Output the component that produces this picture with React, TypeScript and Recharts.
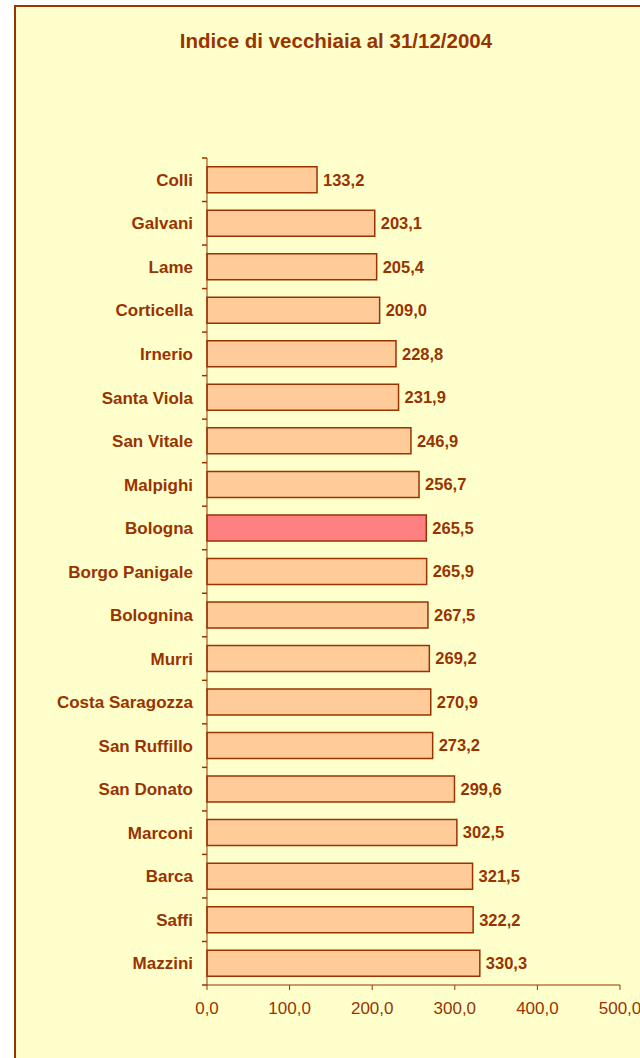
import { Bar, BarChart, Cell, LabelList, XAxis, YAxis } from 'recharts'

// Indice di vecchiaia per quartiere/zona, 31/12/2004
const zone = [
  'Colli', 'Galvani', 'Lame', 'Corticella', 'Irnerio', 'Santa Viola', 'San Vitale',
  'Malpighi', 'Bologna', 'Borgo Panigale', 'Bolognina', 'Murri', 'Costa Saragozza',
  'San Ruffillo', 'San Donato', 'Marconi', 'Barca', 'Saffi', 'Mazzini',
]
const indice = [
  133.2, 203.1, 205.4, 209.0, 228.8, 231.9, 246.9, 256.7, 265.5, 265.9, 267.5,
  269.2, 270.9, 273.2, 299.6, 302.5, 321.5, 322.2, 330.3,
]
const tickValori = [0, 100, 200, 300, 400, 500]
const evidenziata = 'Bologna'

const data = zone.map((name, i) => ({ name, value: indice[i] }))

const MARRONE = '#993300'
const FONT = 'Arial, "Liberation Sans", sans-serif'

const virgola = (v: any) => Number(v).toFixed(1).replace('.', ',')

function TickZona(props: any) {
  const { x, y, payload } = props
  const half = payload?.offset ?? 21.75
  const ultimo = payload?.value === zone[zone.length - 1]
  return (
    <g>
      <line x1={x + 9} x2={x + 14} y1={y - half} y2={y - half} stroke={MARRONE} strokeWidth={1.5} />
      {ultimo && (
        <line x1={x + 9} x2={x + 14} y1={y + half} y2={y + half} stroke={MARRONE} strokeWidth={1.5} />
      )}
      <text
        x={x}
        y={y}
        dy='0.36em'
        textAnchor='end'
        fill={MARRONE}
        fontSize={17}
        fontWeight='bold'
        fontFamily={FONT}
      >
        {payload.value}
      </text>
    </g>
  )
}

export default function App() {
  return (
    <div
      style={{
        position: 'absolute',
        left: 0,
        top: 0,
        width: 640,
        height: 1058,
        overflow: 'hidden',
        background: '#ffffff',
        fontFamily: FONT,
      }}
    >
      <div
        style={{
          position: 'absolute',
          left: 14,
          top: 5,
          width: 700,
          height: 1100,
          border: `2px solid ${MARRONE}`,
          background: '#FFFFCC',
        }}
      />
      <div
        style={{
          position: 'absolute',
          left: 0,
          top: 29,
          width: 672,
          textAlign: 'center',
          color: MARRONE,
          fontSize: 20.5,
          fontWeight: 'bold',
          lineHeight: '24px',
          whiteSpace: 'nowrap',
        }}
      >
        Indice di vecchiaia al 31/12/2004
      </div>
      <div style={{ position: 'absolute', left: 0, top: 0 }}>
        <BarChart
          width={640}
          height={1058}
          data={data}
          layout='vertical'
          margin={{ top: 158, right: 20, bottom: 43, left: 0 }}
          barCategoryGap='20%'
        >
          <XAxis
            type='number'
            domain={[0, 500]}
            ticks={tickValori}
            tickFormatter={virgola}
            stroke={MARRONE}
            tick={{ fill: MARRONE, fontSize: 17, fontFamily: FONT }}
            tickSize={5}
            tickMargin={12}
            height={30}
            interval={0}
          />
          <YAxis
            type='category'
            dataKey='name'
            width={207}
            stroke={MARRONE}
            tickLine={false}
            tickSize={0}
            tickMargin={14}
            tick={<TickZona />}
            interval={0}
          />
          <Bar dataKey='value' stroke={MARRONE} strokeWidth={1.5} isAnimationActive={false}>
            {data.map((d) => (
              <Cell key={d.name} fill={d.name === evidenziata ? '#FF8080' : '#FFCC99'} />
            ))}
            <LabelList
              dataKey='value'
              position='right'
              offset={6}
              formatter={virgola}
              fill={MARRONE}
              fontSize={16.5}
              fontWeight='bold'
              fontFamily={FONT}
            />
          </Bar>
        </BarChart>
      </div>
    </div>
  )
}
